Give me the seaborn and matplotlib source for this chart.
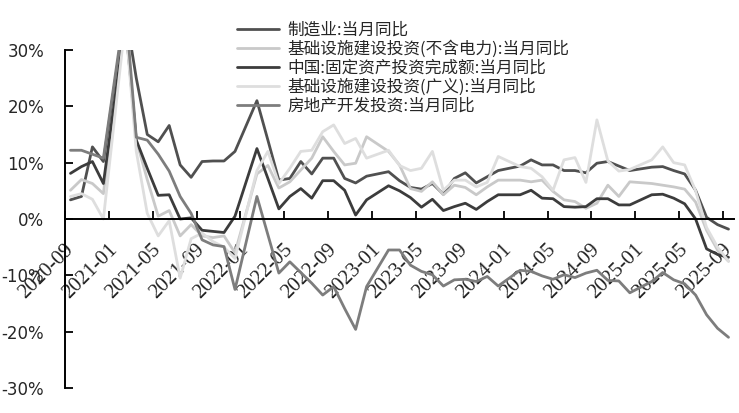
import numpy as np
import pandas as pd
import matplotlib
matplotlib.use("Agg")
import matplotlib.pyplot as plt
import seaborn as sns

nan = np.nan

# 月度数据 2020-09 ~ 2025-09, 1月无单月数据
months = pd.date_range("2020-09", "2025-09", freq="MS").strftime("%Y-%m").tolist()

manufacturing = [3.4, 4.0, 12.8, 10.2,
                 nan, 37.0, 25.0, 15.0, 13.7, 16.6, 9.6, 7.4, 10.2, 10.3, 10.3, 12.0,
                 nan, 21.0, 14.0, 6.9, 7.2, 10.2, 8.0, 10.8, 10.8, 7.2, 6.4, 7.6,
                 nan, 8.4, 6.8, 5.6, 5.3, 6.3, 4.4, 7.2, 8.2, 6.4, 7.5, 8.6,
                 nan, 9.4, 10.5, 9.6, 9.6, 8.6, 8.6, 8.2, 9.9, 10.2, 9.4, 8.6,
                 nan, 9.2, 9.3, 8.6, 8.0, 5.1, 0.3, -1.0, -1.8]

infra_ex_power = [5.1, 7.0, 6.3, 4.5,
                  nan, 36.0, 14.0, 7.0, 0.5, 1.5, -3.0, -1.0, -3.0, -3.3, -3.0, -6.0,
                  nan, 8.0, 9.5, 5.5, 6.6, 8.7, 10.8, 14.6, 12.0, 9.6, 9.9, 14.6,
                  nan, 12.0, 9.6, 5.4, 4.9, 6.6, 4.3, 6.0, 5.6, 4.3, 5.7, 6.9,
                  nan, 6.9, 6.6, 6.9, 4.9, 3.4, 3.1, 1.9, 2.8, 6.0, 4.0, 6.6,
                  nan, 6.3, 6.0, 5.7, 5.3, 3.0, -2.0, -5.5, -7.5]

fai_total = [8.1, 9.3, 10.2, 6.3,
             nan, 35.0, 14.0, 9.0, 4.2, 4.3, 0.0, 0.2, -2.0, -2.2, -2.4, 0.5,
             nan, 12.5, 7.2, 1.8, 4.0, 5.4, 3.7, 6.8, 6.8, 5.1, 0.7, 3.4,
             nan, 5.9, 5.0, 3.8, 2.1, 3.5, 1.5, 2.2, 2.8, 1.7, 3.1, 4.3,
             nan, 4.3, 5.1, 3.7, 3.6, 2.2, 2.1, 2.2, 3.6, 3.6, 2.5, 2.5,
             nan, 4.3, 4.4, 3.7, 2.7, 0.0, -5.3, -6.3, -6.8]

infra_broad = [4.0, 4.5, 3.5, 0.0,
               nan, 35.0, 12.0, 1.0, -3.0, -0.3, -10.5, -3.5, -2.5, -4.0, -5.0, -7.0,
               nan, 8.6, 12.0, 6.3, 9.0, 12.0, 12.2, 15.5, 16.7, 13.4, 14.3, 10.8,
               nan, 12.2, 9.5, 8.6, 9.0, 12.0, 5.1, 6.9, 6.9, 5.7, 6.5, 11.1,
               nan, 9.3, 9.0, 7.5, 5.1, 10.5, 10.9, 6.5, 17.6, 10.3, 8.5, 8.8,
               nan, 10.5, 12.8, 10.0, 9.6, 5.0, -1.5, -5.0, -7.5]

real_estate = [12.2, 12.2, 11.5, 10.8,
               nan, 38.0, 14.5, 14.0, 11.5, 8.5, 4.0, 1.0, -3.7, -4.6, -4.9, -12.5,
               nan, 4.0, -2.8, -9.6, -7.6, -9.5, -11.4, -13.5, -12.0, -15.9, -19.6, -12.0,
               nan, -5.5, -5.5, -8.2, -9.3, -9.9, -11.9, -10.8, -10.7, -11.1, -10.2, -11.9,
               nan, -9.1, -9.3, -10.1, -10.7, -9.9, -10.4, -9.6, -9.1, -10.9, -11.0, -13.1,
               nan, -11.1, -9.5, -10.8, -11.5, -13.5, -17.0, -19.4, -21.0]

tick_labels = ["2020-09", "2021-01", "2021-05", "2021-09", "2022-01", "2022-05",
               "2022-09", "2023-01", "2023-05", "2023-09", "2024-01", "2024-05",
               "2024-09", "2025-01", "2025-05", "2025-09"]

series_names = ["制造业:当月同比",
                "基础设施建设投资(不含电力):当月同比",
                "中国:固定资产投资完成额:当月同比",
                "基础设施建设投资(广义):当月同比",
                "房地产开发投资:当月同比"]
series_values = [manufacturing, infra_ex_power, fai_total, infra_broad, real_estate]
colors = ["#505050", "#c9c9c9", "#3c3c3c", "#dedede", "#7d7d7d"]

sns.set_theme(style="white")
plt.rcParams["font.family"] = ["DejaVu Sans"]

fig = plt.figure(figsize=(7.39, 4.13), dpi=100)
ax = fig.add_axes([65 / 739, 1 - 388 / 413, (734 - 65) / 739, (388 - 50) / 413])

df = pd.DataFrame({"month": months, "idx": np.arange(len(months))})
handles = []
for name, vals, col in zip(series_names, series_values, colors):
    d = df.assign(value=vals).dropna()
    sns.lineplot(data=d, x="idx", y="value", ax=ax, color=col, linewidth=2.0,
                 legend=False)
    handles.append(ax.lines[-1])

ax.set_xlim(-0.5, 60.5)
ax.set_ylim(-30, 30)
ax.set_xlabel("")
ax.set_ylabel("")

for s in ["top", "right"]:
    ax.spines[s].set_visible(False)
ax.spines["bottom"].set_position(("data", 0))
for s in ["left", "bottom"]:
    ax.spines[s].set_color("black")
    ax.spines[s].set_linewidth(1.4)

label_pos = [months.index(t) for t in tick_labels]
ax.set_xticks([p - 0.5 for p in label_pos])
ax.set_xticklabels([])
ax.set_xticks(label_pos, minor=True)
ax.set_xticklabels(tick_labels, minor=True, fontfamily="Liberation Serif", fontsize=15)
ax.tick_params(axis="x", which="major", bottom=True, direction="in", length=6,
               width=1.3, color="black")
ax.tick_params(axis="x", which="minor", bottom=True, length=0, pad=20)
plt.setp(ax.get_xticklabels(minor=True), rotation=45, ha="right", va="center",
         rotation_mode="anchor")

ax.set_yticks([-30, -20, -10, 0, 10, 20, 30])
ax.set_yticklabels([f"{v}%" for v in [-30, -20, -10, 0, 10, 20, 30]], fontsize=12)
ax.tick_params(axis="y", left=True, direction="in", length=6, width=1.3,
               color="black", pad=15)
ax.grid(False)

fig.legend(handles, series_names, loc="upper left", bbox_to_anchor=(237 / 739, 1 - 22 / 413),
           frameon=False, prop={"family": ["Noto Sans CJK SC", "DejaVu Sans"], "size": 12},
           handlelength=2.5, handletextpad=0.5, labelspacing=0.1, borderpad=0,
           borderaxespad=0)

fig.savefig("out.png", dpi=100)
